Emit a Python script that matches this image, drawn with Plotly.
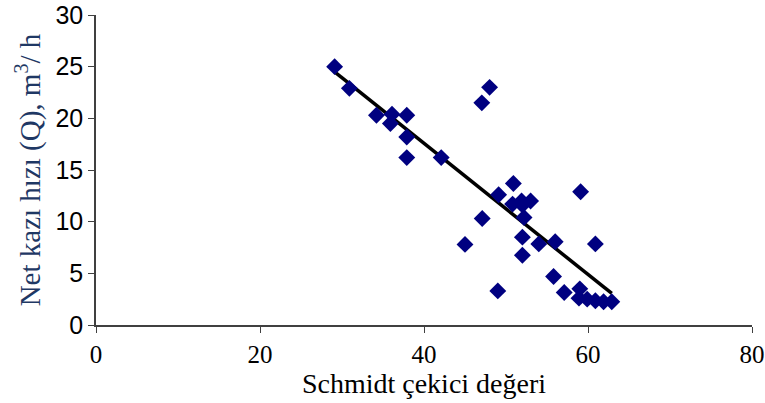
import plotly.graph_objects as go

# Scatter data (Schmidt hammer value vs net excavation rate)
schmidt = [29.1, 30.9, 34.2, 36.1, 37.9, 35.9, 37.9, 37.9, 42.1, 47.05, 48.0,
           50.9, 49.1, 59.1, 50.8, 51.9, 53.0, 52.0, 47.1, 52.2, 45.0, 52.0,
           54.0, 56.0, 60.9, 52.0, 55.8, 49.0, 57.1, 59.0, 58.9, 59.9, 60.9,
           61.9, 62.9]
rate = [25.0, 22.9, 20.3, 20.4, 20.3, 19.5, 18.2, 16.2, 16.2, 21.5, 23.0,
        13.7, 12.6, 12.9, 11.7, 12.0, 12.0, 11.6, 10.3, 10.4, 7.8, 8.5,
        7.85, 8.05, 7.85, 6.75, 4.7, 3.3, 3.15, 3.5, 2.6, 2.5, 2.35,
        2.25, 2.25]

# Trend line endpoints
trend_x = [29.1, 62.9]
trend_y = [24.5, 3.05]

x_ticks = [0, 20, 40, 60, 80]
y_ticks = [0, 5, 10, 15, 20, 25, 30]

fig = go.Figure()
fig.add_trace(go.Scatter(x=trend_x, y=trend_y, mode="lines",
                         line=dict(color="black", width=3.5),
                         showlegend=False, hoverinfo="skip"))
fig.add_trace(go.Scatter(x=schmidt, y=rate, mode="markers",
                         marker=dict(symbol="diamond", size=13, color="#000080"),
                         showlegend=False))

axis_color = "#404040"
fig.update_layout(
    width=765, height=403,
    margin=dict(l=96, r=13, t=15, b=78),
    paper_bgcolor="white", plot_bgcolor="white",
    xaxis=dict(range=[0, 80], tickvals=x_ticks, showgrid=False, zeroline=False,
               automargin=False,
               showline=True, linecolor=axis_color, linewidth=1.5,
               ticks="outside", ticklen=6, tickcolor=axis_color,
               tickfont=dict(family="Liberation Serif", size=25, color="black"),
               title=dict(text="Schmidt çekici değeri", standoff=0,
                          font=dict(family="Liberation Serif", size=28, color="black"))),
    yaxis=dict(range=[0, 30], tickvals=y_ticks, showgrid=False, zeroline=False,
               automargin=False,
               showline=True, linecolor=axis_color, linewidth=1.5,
               ticks="outside", ticklen=6, tickcolor=axis_color,
               tickfont=dict(family="Liberation Sans", size=25, color="black"),
               title=dict(text="Net kazı hızı (Q), m<sup>3</sup>/ h", standoff=6,
                          font=dict(family="Liberation Serif", size=29, color="#1F3864"))),
)

fig.write_html("out.html")
